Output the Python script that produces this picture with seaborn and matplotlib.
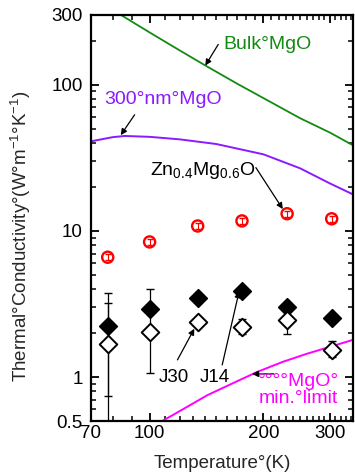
import numpy as np
import matplotlib
matplotlib.use("Agg")
import matplotlib.pyplot as plt
import seaborn as sns

# curves
bulk_T = [84, 100, 120, 140, 170, 200, 250, 300, 345]
bulk_k = [300, 228, 172, 136, 102, 81, 59, 47, 38.5]

film_T = [70, 80, 86, 100, 120, 150, 200, 250, 300, 346]
film_k = [41, 43.8, 44.6, 44, 42.3, 39.3, 33.4, 26.8, 21.1, 17.7]

minlim_T = [108, 116, 125, 142, 165, 192, 225, 260, 300, 346]
minlim_k = [0.5, 0.555, 0.62, 0.75, 0.9, 1.08, 1.27, 1.44, 1.61, 1.8]

# measured points
pts_T = [77.5, 100, 134, 175.5, 231, 303]
zn_k = [6.6, 8.4, 10.8, 11.7, 13.1, 12.1]
j14_k = [2.25, 2.94, 3.45, 3.86, 2.99, 2.55]
j30_k = [1.69, 2.04, 2.39, 2.21, 2.47, 1.54]

j14_err_lo = [1.51, 0, 0, 0, 0, 0]
j14_err_hi = [0.94, 0, 0, 0, 0, 0]
j30_err_lo = [1.3, 0.97, 0, 0.25, 0.5, 0.18]
j30_err_hi = [2.04, 1.94, 0, 0.3, 0.5, 0.22]
zn_err = [0.05 * v for v in zn_k]

sns.set_style("ticks")
plt.rcParams['font.family'] = ['Liberation Sans', 'DejaVu Sans']
plt.rcParams['mathtext.default'] = 'regular'

fig = plt.figure(figsize=(3.55, 4.75), dpi=100)
ax = fig.add_axes([91 / 355, 1 - 421 / 475, 262 / 355, 406 / 475])
ax.set_xscale('log')
ax.set_yscale('log')

sns.lineplot(x=bulk_T, y=bulk_k, color='#138a13', lw=1.3, ax=ax, sort=False)
sns.lineplot(x=film_T, y=film_k, color='#8a1aff', lw=1.4, ax=ax, sort=False)
sns.lineplot(x=minlim_T, y=minlim_k, color='#ff00ff', lw=1.4, ax=ax, sort=False)

ax.errorbar(pts_T, zn_k, yerr=zn_err, fmt='none', ecolor='red', elinewidth=0.8, capsize=2.2, zorder=3)
ax.errorbar(pts_T, j14_k, yerr=[j14_err_lo, j14_err_hi], fmt='none', ecolor='black', elinewidth=0.9, capsize=2.8, zorder=3)
ax.errorbar(pts_T, j30_k, yerr=[j30_err_lo, j30_err_hi], fmt='none', ecolor='black', elinewidth=0.9, capsize=2.8, zorder=3)

sns.scatterplot(x=pts_T, y=zn_k, marker='o', s=64, facecolor='none', edgecolor='red', linewidth=1.7, ax=ax, zorder=4)
sns.scatterplot(x=pts_T, y=j14_k, marker='D', s=80, color='black', edgecolor='black', linewidth=1.2, ax=ax, zorder=5)
sns.scatterplot(x=pts_T, y=j30_k, marker='D', s=80, facecolor='white', edgecolor='black', linewidth=1.4, ax=ax, zorder=5)

ax.set_xlim(70, 345)
ax.set_ylim(0.5, 300)

ax.set_xticks([70, 100, 200, 300])
ax.set_xticklabels(['70', '100', '200', '300'])
ax.set_xticks([80, 90] + list(range(110, 200, 10)) + list(range(210, 300, 10)) + [310, 320, 330, 340], minor=True)
ax.set_yticks([0.5, 1, 10, 100, 300])
ax.set_yticklabels(['0.5', '1', '10', '100', '300'])
ax.set_yticks([0.6, 0.7, 0.8, 0.9, 2, 3, 4, 5, 6, 7, 8, 9, 20, 30, 40, 50, 60, 70, 80, 90, 200], minor=True)
ax.yaxis.set_minor_formatter(matplotlib.ticker.NullFormatter())
ax.xaxis.set_minor_formatter(matplotlib.ticker.NullFormatter())

ax.tick_params(which='both', direction='in', top=True, right=True, labelsize=13.5, colors='black')
ax.tick_params(axis='y', pad=6)
ax.tick_params(axis='x', pad=3)
ax.tick_params(which='major', length=6, width=1.3)
ax.tick_params(which='minor', length=3.5, width=1.1)
for sp in ax.spines.values():
    sp.set_linewidth(1.6)
    sp.set_color('black')

ax.set_xlabel('Temperature°(K)', fontsize=13.5, labelpad=9)
ax.set_ylabel('Thermal°Conductivity°(W°m$^{-1}$°K$^{-1}$)', fontsize=13.5)
ax.yaxis.set_label_coords(-0.222, 0.455)

arrow = dict(arrowstyle='-|>', color='black', lw=0.9, mutation_scale=9, shrinkA=0, shrinkB=0)

ax.text(157, 189, 'Bulk°MgO', color='#138a13', fontsize=14, ha='left', va='center')
ax.annotate('', xy=(140.4, 135.3), xytext=(151.9, 188.8), arrowprops=arrow)

ax.text(75.7, 78.7, '300°nm°MgO', color='#8a1aff', fontsize=14, ha='left', va='center')
ax.annotate('', xy=(83.9, 45.2), xytext=(91.3, 62.3), arrowprops=arrow)

ax.text(100, 25.9, 'Zn$_{0.4}$Mg$_{0.6}$O', color='black', fontsize=14, ha='left', va='center')
ax.annotate('', xy=(225, 14.1), xytext=(191, 27.1), arrowprops=arrow)

ax.text(106, 1.0, 'J30', color='black', fontsize=13.5, ha='left', va='center')
ax.annotate('', xy=(131.3, 2.14), xytext=(118.5, 1.31), arrowprops=arrow)

ax.text(135.4, 1.0, 'J14', color='black', fontsize=13.5, ha='left', va='center')
ax.annotate('', xy=(172.5, 3.86), xytext=(155.6, 1.21), arrowprops=arrow)

ax.annotate('', xy=(186.6, 1.05), xytext=(213, 1.05), arrowprops=arrow)
ax.text(248, 0.813, '°°°°MgO°\nmin.°limit', color='#ff00ff', fontsize=14, ha='center', va='center',
        multialignment='center', linespacing=1.0)

fig.savefig('out.png', dpi=100)
